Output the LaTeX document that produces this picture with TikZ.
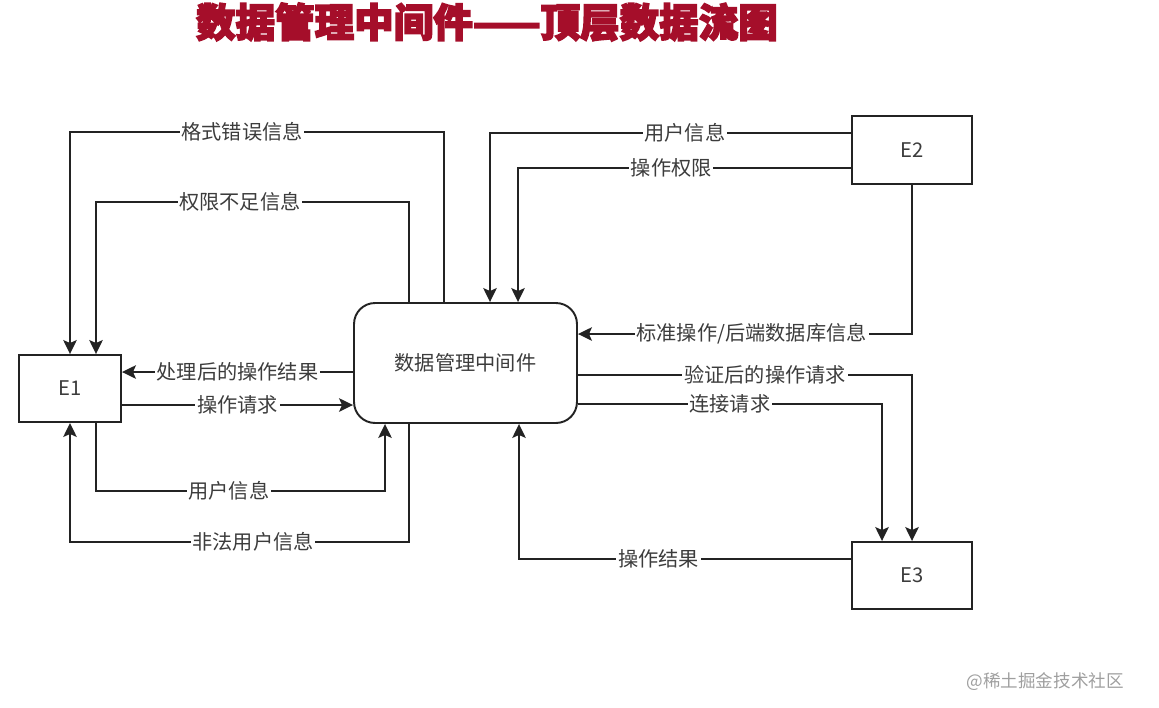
\documentclass[tikz,border=0pt]{standalone}
\usepackage{fontspec}
\setmainfont{Noto Sans CJK SC}
\newfontfamily\titlefont[FakeBold=4]{Noto Sans CJK SC}
\usetikzlibrary{arrows.meta,positioning,calc}
\definecolor{titleRed}{RGB}{165,14,42}
\definecolor{lineGray}{RGB}{35,35,35}
\definecolor{textGray}{RGB}{60,60,60}
\tikzset{
  ent/.style={draw=lineGray,line width=1.1pt,minimum width=2.04cm,minimum height=1.34cm,
              font=\fontsize{11.5}{13}\selectfont,text=textGray},
  proc/.style={draw=lineGray,line width=1.1pt,rounded corners=0.42cm,minimum width=4.46cm,
               minimum height=2.4cm,font=\fontsize{11.5}{13}\selectfont,text=textGray},
  flow/.style={-{Stealth[length=2.8mm,width=2.7mm,inset=0.6mm]},draw=lineGray,line width=1.05pt},
  lab/.style={fill=white,inner sep=1pt,font=\fontsize{11.5}{13}\selectfont,text=textGray},
  wmark/.style={font=\fontsize{10}{12}\selectfont,text=gray!75},
}

\begin{document}
\begin{tikzpicture}[x=0.02cm,y=-0.02cm]
  \useasboundingbox (0,0) rectangle (1159,707);

  %% -- Title --------------------------------------------------------------
  \node[font=\titlefont\bfseries\fontsize{22.5}{26}\selectfont,text=titleRed] (title) at (487,22)
       {数据管理中间件——顶层数据流图};

  %% -- Nodes --------------------------------------------------------------
  \node[proc] (mw) at (465.5,363) {数据管理中间件};
  \node[ent]  (e1) at (70,388.5)  {E1};
  \node[ent,minimum width=2.4cm,minimum height=1.36cm] (e2) at (912,150)   {E2};
  \node[ent,minimum width=2.4cm]                       (e3) at (912,575.5) {E3};

  %% -- Flows between E1 and the middleware --------------------------------
  \draw[flow] ($(mw.north)+(-21.5,0)$) -- ++(0,-170)
      -| node[lab,pos=0.27] {格式错误信息} (e1.north);
  \draw[flow] ($(mw.north)+(-56.5,0)$) -- ++(0,-100)
      -| node[lab,pos=0.27] {权限不足信息} ($(e1.north)+(26,0)$);
  \draw[flow] ($(mw.west)+(0,9)$) -- node[lab] {处理后的操作结果} ($(e1.east)+(0,-16.5)$);
  \draw[flow] ($(e1.east)+(0,16.5)$) -- node[lab] {操作请求} ($(mw.west)+(0,42)$);
  \draw[flow] ($(e1.south)+(26,0)$) -- ++(0,68)
      -| node[lab,pos=0.23] {用户信息} ($(mw.south)+(-80.5,0)$);
  \draw[flow] ($(mw.south)+(-56.5,0)$) -- ++(0,118)
      -| node[lab,pos=0.23] {非法用户信息} (e1.south);

  %% -- Flows with E2 and E3 -----------------------------------------------
  \draw[flow] ($(e2.west)+(0,-17)$) -| node[lab,pos=0.23] {用户信息} ($(mw.north)+(24.5,0)$);
  \draw[flow] ($(e2.west)+(0,18)$) -| node[lab,pos=0.27] {操作权限} ($(mw.north)+(52.5,0)$);
  \draw[flow] (e2.south) |- node[lab,pos=0.74] {标准操作/后端数据库信息} ($(mw.east)+(0,-29)$);
  \draw[flow] ($(mw.east)+(0,12)$) -| node[lab,pos=0.28] {验证后的操作请求} (e3.north);
  \draw[flow] ($(mw.east)+(0,41)$) -| node[lab,pos=0.25] {连接请求} ($(e3.north)+(-30,0)$);
  \draw[flow] ($(e3.west)+(0,-16.5)$) -| node[lab,pos=0.29] {操作结果} ($(mw.south)+(53.5,0)$);

  %% -- Watermark ----------------------------------------------------------
  \node[wmark,anchor=east] (wm) at (1130,682) {@稀土掘金技术社区};
\end{tikzpicture}
\end{document}
